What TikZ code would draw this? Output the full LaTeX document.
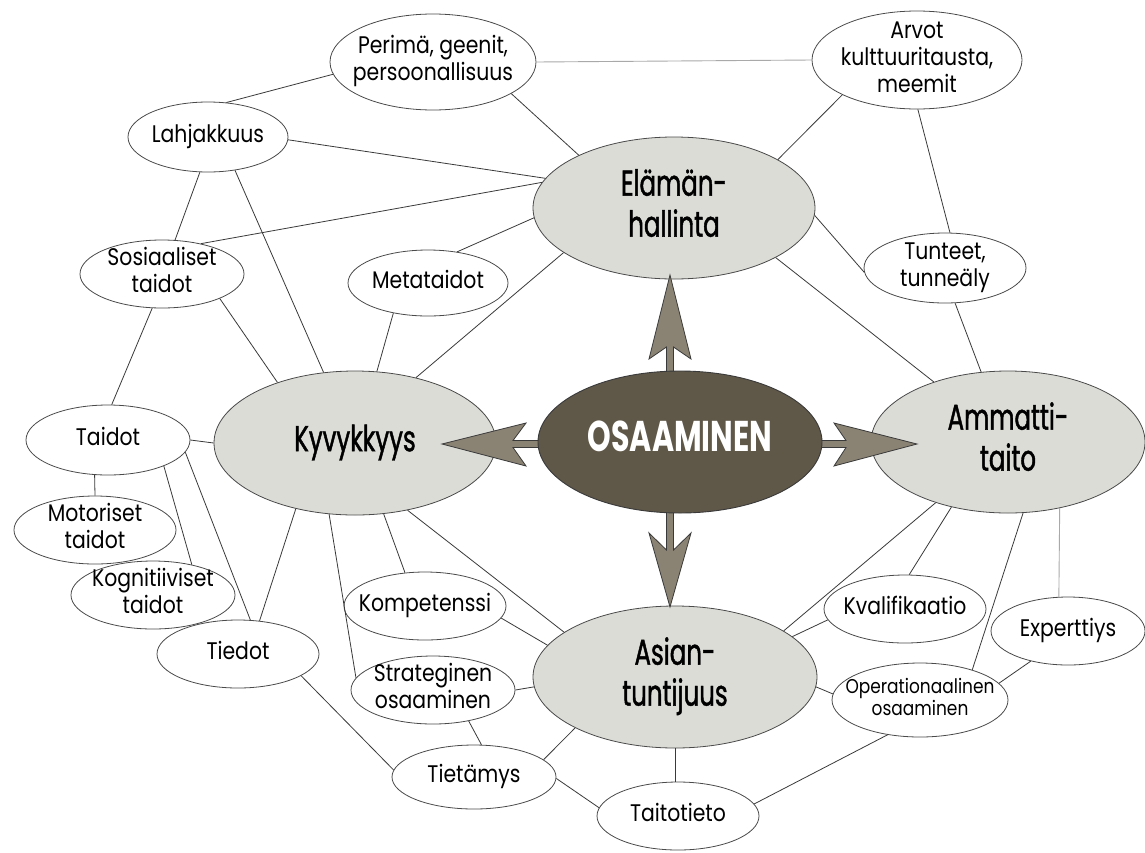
\documentclass[tikz,border=0pt]{standalone}
\usepackage{fontspec}
\setmainfont[FakeStretch=0.85]{Poppins}
\newfontfamily\condfont[FakeStretch=0.68,FakeBold=1.2]{Poppins}
\newfontfamily\corefont[FakeStretch=0.7]{Poppins}
\usetikzlibrary{shapes.geometric}

\definecolor{linec}{HTML}{3A3A3A}
\definecolor{rimc}{HTML}{4A4A4A}
\definecolor{faint}{HTML}{A9A9A9}
\definecolor{bigfill}{HTML}{DCDCD7}
\definecolor{diam}{HTML}{EFEFEC}
\definecolor{core}{HTML}{5F5748}
\definecolor{dartfill}{HTML}{8A8374}

% zero-size centred text block, so that the ellipse size is set only by its minimum width/height
\newcommand\ct[1]{\makebox[0pt]{\raisebox{\dimexpr-.5\height+.5\depth\relax}[0pt][0pt]{\begin{tabular}{@{}c@{}}#1\end{tabular}}}}

\pgfdeclarelayer{bg}
\pgfsetlayers{bg,main}

\tikzset{
  oval/.style n args={2}{ellipse, inner sep=0pt, minimum width=#1pt, minimum height=#2pt},
  small/.style={draw=rimc, fill=white, line width=0.8pt, font=\fontsize{24}{27}\selectfont, text=black},
  tiny/.style={small, font=\fontsize{20}{22}\selectfont},
  big/.style={draw=rimc, fill=bigfill, line width=0.8pt, font=\condfont\fontsize{36}{41}\selectfont, text=black},
  core/.style={draw=linec, fill=core, line width=0.9pt, font=\corefont\bfseries\fontsize{43}{46}\selectfont, text=white},
  link/.style={draw=linec, line width=0.8pt},
  paleline/.style={draw=faint, line width=0.9pt},
  dart/.style={draw=linec, fill=dartfill, line width=0.8pt, line join=miter},
}

\begin{document}
\begin{tikzpicture}[x=1pt, y=-1pt]
\useasboundingbox[fill=white] (0,0) rectangle (1145,852);

% the four main areas
\node[big, oval={282}{142}] (elam) at (674,208) {\ct{Elämän-\\hallinta}};
\node[big, oval={282}{144}] (kyvy) at (355,443) {\ct{Kyvykkyys}};
\node[big, oval={274}{142}] (amma) at (1008,442) {\ct{Ammatti-\\taito}};
\node[big, oval={284}{142}] (asia) at (675,677) {\ct{Asian-\\tuntijuus}};

% shaded field between the main areas
\begin{pgfonlayer}{bg}
  \fill[diam] (elam.202.4) -- (elam.334.3) -- (amma.141.9) -- (amma.220)
    -- (asia.23.2) -- (asia.158.6) -- (kyvy.308.9) -- (kyvy.47.7) -- cycle;
\end{pgfonlayer}

% arrows out of the core
\path[dart] (670,275) -- (691,359) -- (673.5,347) -- (673.5,390) -- (666.5,390) -- (666.5,347) -- (649,359) -- cycle;
\path[dart] (442,444) -- (526,423) -- (513,440.5) -- (550,440.5) -- (550,447.5) -- (513,447.5) -- (526,466) -- cycle;
\path[dart] (917,444) -- (834,423) -- (846,440.5) -- (810,440.5) -- (810,447.5) -- (846,447.5) -- (834,466) -- cycle;
\path[dart] (670,607) -- (691,533) -- (673.5,550) -- (673.5,495) -- (666.5,495) -- (666.5,550) -- (649,533) -- cycle;

\node[core, oval={284}{142}] (osaa) at (680,442) {\ct{OSAAMINEN}};

% surrounding concepts
\node[small, oval={206}{96}] (peri) at (433,62) {\ct{Perimä, geenit,\\persoonallisuus}};
\node[small, oval={210}{98}] (arvo) at (917,60) {\ct{Arvot\\kulttuuritausta,\\meemit}};
\node[small, oval={160}{70}] (lahj) at (208,137) {\ct{Lahjakkuus}};
\node[small, oval={164}{68}] (sosi) at (162,274) {\ct{Sosiaaliset\\taidot}};
\node[small, oval={160}{66}] (meta) at (428,283) {\ct{Metataidot}};
\node[small, oval={162}{70}] (tunt) at (945,268) {\ct{Tunteet,\\tunneäly}};
\node[small, oval={164}{70}] (taid) at (108,440) {\ct{Taidot}};
\node[small, oval={162}{68}] (moto) at (95,530) {\ct{Motoriset\\taidot}};
\node[small, oval={164}{68}] (kogn) at (153,595) {\ct{Kognitiiviset\\taidot}};
\node[small, oval={162}{68}] (tied) at (238,654) {\ct{Tiedot}};
\node[small, oval={162}{68}] (komp) at (425,606) {\ct{Kompetenssi}};
\node[small, oval={164}{68}] (stra) at (433,690) {\ct{Strateginen\\osaaminen}};
\node[small, oval={164}{64}] (tiet) at (474,777) {\ct{Tietämys}};
\node[small, oval={162}{68}] (kval) at (905,609) {\ct{Kvalifikaatio}};
\node[small, oval={154}{68}] (expe) at (1068,631) {\ct{Experttiys}};
\node[tiny, oval={176}{74}] (oper) at (920,700) {\ct{Operationaalinen\\osaaminen}};
\node[small, oval={162}{68}] (taito) at (678,816) {\ct{Taitotieto}};

% links
\draw[paleline] (peri.0) -- (arvo.180);
\draw[link] (peri.187) -- (lahj.62);
\draw[link] (peri.338) -- (elam.151.5);
\draw[link] (arvo.205.7) -- (elam.25.7);
\draw[link] (arvo.271) -- (tunt.82);
\draw[link] (lahj.358) -- (elam.167.5);
\draw[link] (lahj.257) -- (sosi.69.6);
\draw[link] (lahj.309.6) -- (kyvy.114.6);
\draw[link] (sosi.38.7) -- (elam.169.4);
\draw[link] (sosi.337) -- (kyvy.142.3);
\draw[link] (sosi.254) -- (taid.84.8);
\draw[link] (meta.47.8) -- (elam.184);
\draw[link] (meta.221.6) -- (kyvy.73.5);
\draw[link] (elam.357) -- (tunt.183.6);
\draw[link] (elam.202.4) -- (kyvy.47.7);
\draw[link] (elam.334.3) -- (amma.141.9);
\draw[link] (tunt.286.4) -- (amma.111.3);
\draw[link] (taid.0) -- (kyvy.180);
\draw[link] (taid.249) -- (moto.90);
\draw[link] (taid.335.6) -- (kogn.38.3);
\draw[link] (taid.351) -- (tied.70.6);
\draw[link] (kyvy.228) -- (tied.57.5);
\draw[link] (kyvy.250.4) -- (stra.171.1);
\draw[link] (kyvy.292.1) -- (komp.121.7);
\draw[link] (kyvy.308.9) -- (asia.158.6);
\draw[link] (komp.351.9) -- (asia.166.7);
\draw[link] (stra.0) -- (asia.184.9);
\draw[link] (stra.319.1) -- (tiet.77.7);
\draw[link] (tied.341.3) -- (tiet.175);
\draw[link] (tiet.14.4) -- (asia.207.7);
\draw[link] (tiet.359) -- (taito.174.2);
\draw[link] (asia.south) -- (asia.south |- taito.north);
\draw[link] (asia.19.9) -- (kval.188);
\draw[link] (asia.23.2) -- (amma.220);
\draw[link] (kval.83) -- (amma.229.1);
\draw[link] (asia.356) -- (oper.176.7);
\draw[link] (oper.30) -- (amma.282);
\draw[link] (oper.12.7) -- (expe.219.8);
\draw[paleline] (expe.105) -- (amma.308);
\draw[link] (oper.227.4) -- (taito.9.7);
\end{tikzpicture}
\end{document}
